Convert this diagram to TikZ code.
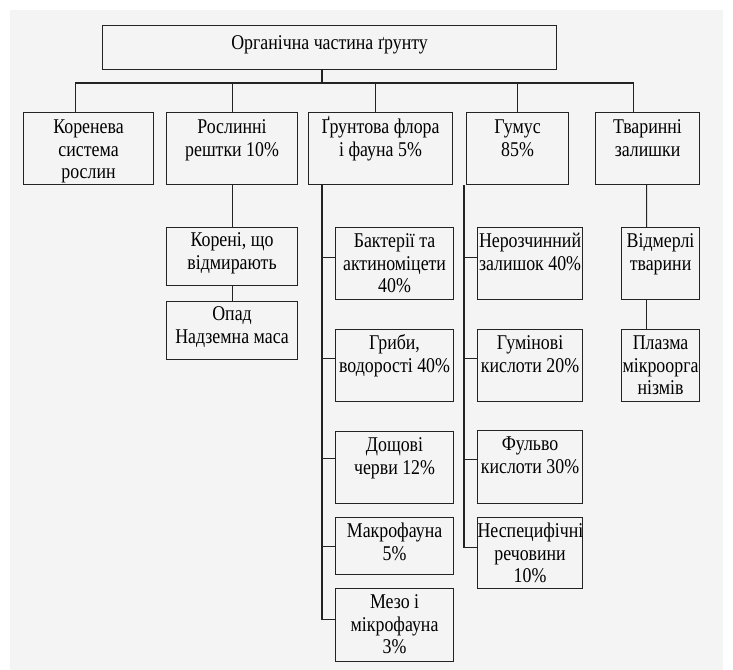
\documentclass[tikz,border=0pt]{standalone}
\usepackage{fontspec}
\newfontfamily\cond[FakeStretch=0.85]{Liberation Serif}
\usetikzlibrary{calc}

\definecolor{panel}{RGB}{244,244,244}
\definecolor{ink}{RGB}{35,35,35}
% top aligned text inside a box of fixed size
\newcommand{\cell}[4][21]{\parbox[t][#3bp][t]{#2bp}{\centering\rule{0pt}{#1bp}#4}}

\begin{document}
\begin{tikzpicture}[x=1bp,y=-1bp,
  box/.style={draw=ink,line width=1.1bp,inner sep=0pt,anchor=north west,
    font=\cond\fontsize{21bp}{22.5bp}\selectfont},
  link/.style={draw=ink,line width=1.1bp}]
  \fill[white] (0,0) rectangle (733,670);
  \fill[panel] (10,10) rectangle (723,670);
  \useasboundingbox (0,0) rectangle (733,670);
  % root
  \node[box] (top) at (102,25) {\cell[24]{454}{44}{Органічна частина ґрунту}};
  % first level
  \node[box] (k1) at (23,112)  {\cell{130}{72}{Коренева\\система\\рослин}};
  \node[box] (k2) at (166,112) {\cell{131}{72}{Рослинні\\рештки 10\%}};
  \node[box] (k3) at (308,112) {\cell{144}{72}{Ґрунтова флора\\і фауна 5\%}};
  \node[box] (k4) at (466,112) {\cell{102}{72}{Гумус\\85\%}};
  \node[box] (k5) at (595,112) {\cell{104}{72}{Тваринні\\залишки}};
  % plant residues
  \node[box] (r1) at (166,227) {\cell[19]{131}{58}{Корені, що\\відмирають}};
  \node[box] (r2) at (166,301) {\cell[19]{131}{58}{Опад\\Надземна маса}};
  % flora and fauna
  \node[box] (f1) at (335,227) {\cell[20]{118}{72}{Бактерії та\\актиноміцети\\40\%}};
  \node[box] (f2) at (335,329) {\cell[20]{118}{72}{Гриби,\\водорості 40\%}};
  \node[box] (f3) at (335,431) {\cell[20]{118}{72}{Дощові\\черви 12\%}};
  \node[box] (f4) at (335,517) {\cell[20]{118}{57}{Макрофауна\\5\%}};
  \node[box] (f5) at (335,588) {\cell[20]{118}{73}{Мезо і\\мікрофауна\\3\%}};
  % humus
  \node[box] (h1) at (477,227) {\cell[20]{105}{72}{Нерозчинний\\залишок 40\%}};
  \node[box] (h2) at (477,329) {\cell[20]{105}{72}{Гумінові\\кислоти 20\%}};
  \node[box] (h3) at (477,430) {\cell[20]{105}{73}{Фульво\\кислоти 30\%}};
  \node[box] (h4) at (477,517) {\cell[20]{105}{71}{Неспецифічні\\речовини\\10\%}};
  % animal residues
  \node[box] (t1) at (621,227) {\cell[20]{78}{72}{Відмерлі\\тварини}};
  \node[box] (t2) at (621,329) {\cell[20]{78}{72}{Плазма\\мікроорга\\нізмів}};
  % bus under the root
  \coordinate (hub) at (322,83);
  \draw[link] (top.south -| hub) -- (hub);
  \draw[link] ([xshift=-13bp]k1.north) |- ([xshift=-14bp]k5.north |- hub)
    -- ([xshift=-14bp]k5.north);
  \foreach \n/\dx in {k2/0,k3/-5,k4/0}
    \draw[link] ([xshift=\dx bp]\n.north) -- ([xshift=\dx bp]\n.north |- hub);
  % columns
  \draw[link] (k2) -- (r1);
  \draw[link] (r1) -- (r2);
  \coordinate (c3) at ([xshift=14bp]k3.south west);
  \draw[link] (c3) |- ([yshift=6bp]f5.west);
  \foreach \n/\dy in {f1/6,f2/7,f3/9,f4/0}
    \draw[link] ([yshift=\dy bp]\n.west) -- ++(-13,0);
  \coordinate (c4) at ([xshift=-2bp]k4.south west);
  \draw[link] (c4) |- ([yshift=6bp]h4.west);
  \foreach \n/\dy in {h1/6,h2/7,h3/8}
    \draw[link] ([yshift=\dy bp]\n.west) -- ++(-13,0);
  \draw[link] ([xshift=-1bp]k5.south) -- ([xshift=-14bp]t1.north);
  \draw[link] ([xshift=-14bp]t1.south) -- ([xshift=-14bp]t2.north);
\end{tikzpicture}
\end{document}
